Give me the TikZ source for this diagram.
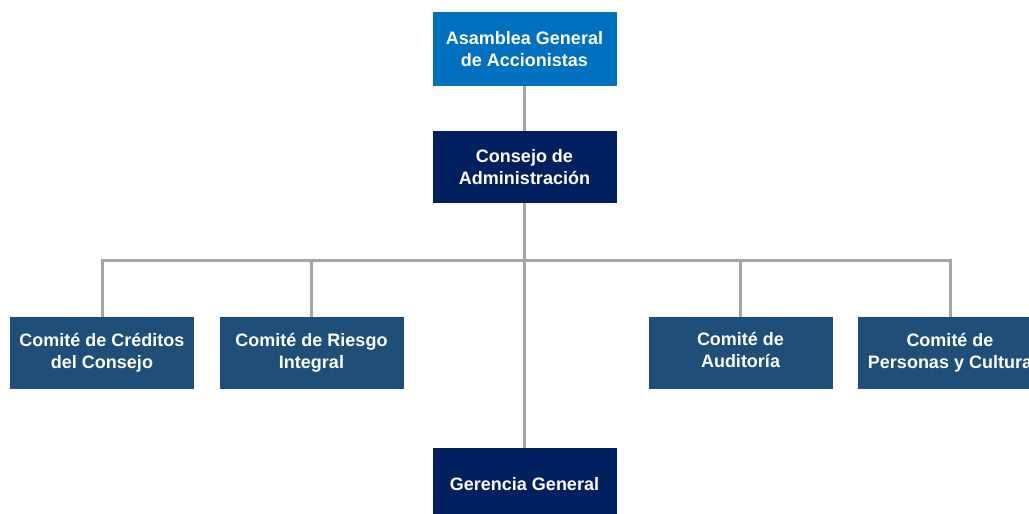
\documentclass[tikz,border=0pt]{standalone}
\usepackage{fontspec}
\setmainfont{Liberation Sans}
\usepackage{tikz}
\usetikzlibrary{positioning}
\definecolor{asamblea}{HTML}{0070C0}
\definecolor{navy}{HTML}{002060}
\definecolor{comite}{HTML}{1F4E79}
\definecolor{linea}{HTML}{A6A6A6}
\tikzset{
  box/.style={fill=#1, text=white, align=center, minimum width=184pt, minimum height=72pt,
    inner sep=0pt, font=\fontsize{18}{21.5}\selectfont\bfseries},
  link/.style={draw=linea, line width=3pt}
}
\begin{document}
\begin{tikzpicture}[x=1pt, y=-1pt]
    \useasboundingbox (0,0) rectangle (1029,514);
    \clip (0,0) rectangle (1029,514);
    \node[box=asamblea, minimum height=74pt] (A) at (524.5,49) {Asamblea General\\de Accionistas};
    \node[box=navy] (B) at (524.5,167) {Consejo de\\Administraci\'on};
    \node[box=comite] (C1) at (102,353) {Comit\'e de Cr\'editos\\del Consejo};
    \node[box=comite] (C2) at (311.5,353) {Comit\'e de Riesgo\\Integral};
    \node[box=comite] (C3) at (740.5,353) {Comit\'e de\\Auditor\'ia\strut};
    \node[box=comite] (C4) at (950,353) {Comit\'e de\\Personas y Cultura};
    \node[box=navy] (G) at (524.5,484) {Gerencia General};
    \coordinate (bus) at (524.5,260);
    \path [link] (A) edge (B);
    \path [link] (B) edge (G);
    \draw [link] (bus) -| (C1.north);
    \draw [link] (bus) -| (C2.north);
    \draw [link] (bus) -| (C3.north);
    \draw [link] (bus) -| (C4.north);
  \end{tikzpicture}
\end{document}
